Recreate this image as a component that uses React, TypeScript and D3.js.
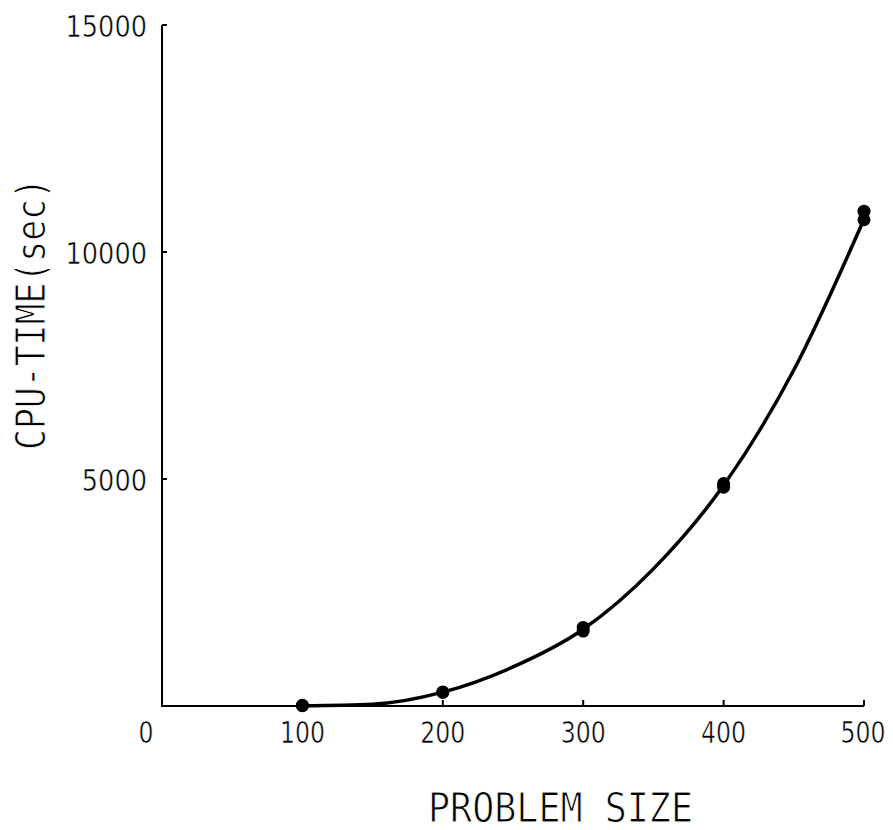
import React from "react";
import * as d3 from "d3";

const problemSizes = [100, 200, 300, 400, 500];
const cpuTimeRunA = [15, 310, 1730, 4900, 10900];
const cpuTimeRunB = [5, 300, 1650, 4820, 10710];
// smooth fitted curve
const curveSizes = [100, 150, 200, 250, 300, 350, 400, 450, 500];
const curveValues = [5, 40, 305, 860, 1690, 3020, 4860, 7400, 10720];
const xTicks = [0, 100, 200, 300, 400, 500];
const yTicks = [5000, 10000, 15000];
const xTitle = "PROBLEM SIZE";
const yTitle = "CPU-TIME(sec)";

const W = 893;
const H = 830;

export default function App() {
  const x = d3.scaleLinear().domain([0, 500]).range([162, 864]);
  const y = d3.scaleLinear().domain([0, 15000]).range([706, 25]);

  const line = d3
    .line<[number, number]>()
    .x((d) => x(d[0]))
    .y((d) => y(d[1]))
    .curve(d3.curveMonotoneX);

  const curvePts: [number, number][] = curveSizes.map((p, i) => [p, curveValues[i]]);
  const pts = [
    ...problemSizes.map((p, i) => [p, cpuTimeRunA[i]]),
    ...problemSizes.map((p, i) => [p, cpuTimeRunB[i]]),
  ];

  const numFont = "'DejaVu Sans', 'Liberation Sans', sans-serif";
  const titleFont = "'DejaVu Sans Mono', 'Liberation Mono', monospace";

  return (
    <svg
      width={W}
      height={H}
      viewBox={`0 0 ${W} ${H}`}
      style={{ position: "absolute", left: 0, top: 0, background: "#fff" }}
    >
      {/* axes */}
      <path
        d={`M${x(0)},${y(15000)} V${y(0)} H${x(500)}`}
        fill="none"
        stroke="#000"
        strokeWidth={2}
      />
      {yTicks.map((t) => (
        <line key={"yt" + t} x1={x(0)} x2={x(0) + 5} y1={y(t)} y2={y(t)} stroke="#000" strokeWidth={2} />
      ))}
      {xTicks.filter((t) => t > 0).map((t) => (
        <line key={"xt" + t} x1={x(t)} x2={x(t)} y1={y(0)} y2={y(0) - 6} stroke="#000" strokeWidth={2} />
      ))}
      {/* tick labels */}
      {xTicks.map((t) => {
        const s = String(t);
        const cx = t === 0 ? x(0) - 16 : t === 500 ? x(t) - 1 : x(t);
        return (
          <text
            key={"xl" + t}
            x={cx}
            y={743}
            textAnchor="middle"
            fontFamily={numFont}
            fontSize={30}
            textLength={15 * s.length}
            lengthAdjust="spacingAndGlyphs"
            stroke="#fff"
            strokeWidth={0.6}
          >
            {s}
          </text>
        );
      })}
      {yTicks.map((t) => {
        const s = String(t);
        return (
          <text
            key={"yl" + t}
            x={147}
            y={y(t) + 12}
            textAnchor="end"
            fontFamily={numFont}
            fontSize={30}
            textLength={16.3 * s.length}
            lengthAdjust="spacingAndGlyphs"
            stroke="#fff"
            strokeWidth={0.6}
          >
            {s}
          </text>
        );
      })}
      {/* curve */}
      <path d={line(curvePts) || ""} fill="none" stroke="#000" strokeWidth={3.5} />
      {/* points */}
      {pts.map((p, i) => (
        <circle key={"p" + i} cx={x(p[0])} cy={y(p[1])} r={6.5} fill="#000" />
      ))}
      {/* titles */}
      <text
        x={428}
        y={822}
        fontFamily={titleFont}
        fontSize={41}
        textLength={265}
        lengthAdjust="spacingAndGlyphs"
        stroke="#fff"
        strokeWidth={1}
      >
        {xTitle}
      </text>
      <text
        transform={`translate(45, 314) rotate(-90)`}
        textAnchor="middle"
        fontFamily={titleFont}
        fontSize={41}
        textLength={272}
        lengthAdjust="spacingAndGlyphs"
        stroke="#fff"
        strokeWidth={1}
      >
        {yTitle}
      </text>
    </svg>
  );
}
